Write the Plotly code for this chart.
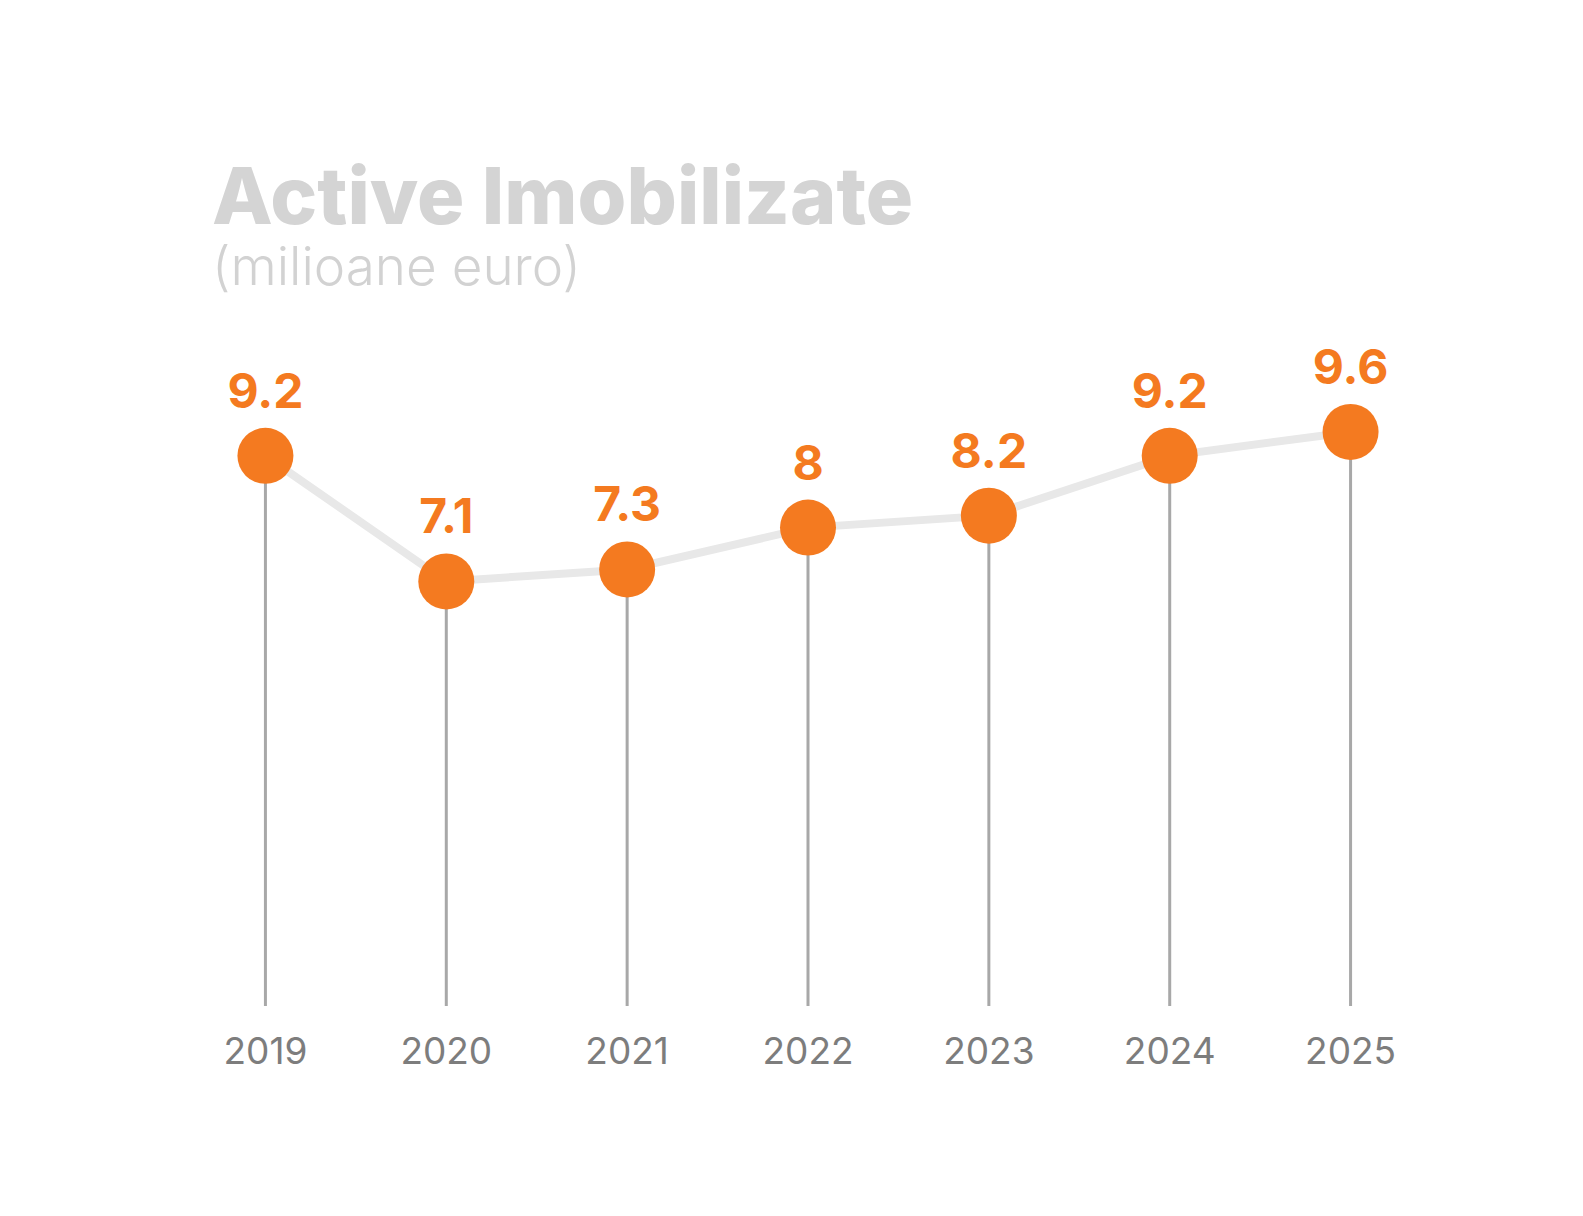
import plotly.graph_objects as go

years = ["2019", "2020", "2021", "2022", "2023", "2024", "2025"]
values = [9.2, 7.1, 7.3, 8.0, 8.2, 9.2, 9.6]
labels = ["9.2", "7.1", "7.3", "8", "8.2", "9.2", "9.6"]
title = "Active Imobilizate"
subtitle = "(milioane euro)"

xs = list(range(len(years)))

ORANGE = "#f47a20"
STEM = "#a8a8a8"
LINE = "#e8e8e8"

stem_x, stem_y = [], []
for x, v in zip(xs, values):
    stem_x += [x, x, None]
    stem_y += [0, v, None]

fig = go.Figure()
fig.add_trace(go.Scatter(x=stem_x, y=stem_y, mode="lines",
                         line=dict(color=STEM, width=3), hoverinfo="skip", showlegend=False))
fig.add_trace(go.Scatter(x=xs, y=values, mode="lines",
                         line=dict(color=LINE, width=8), hoverinfo="skip", showlegend=False))
fig.add_trace(go.Scatter(x=xs, y=values, mode="markers+text",
                         marker=dict(color=ORANGE, size=56, line=dict(width=0)),
                         text=labels, textposition="top center",
                         textfont=dict(family="Inter", size=48, color=ORANGE, weight=700),
                         cliponaxis=False, showlegend=False))

heading = (
    f'<span style="font-size:79px;font-weight:800;fill:#d4d4d4">{title}</span><br>'
    f'<span style="font-size:53px;font-weight:300;fill:#d2d2d2">{subtitle}</span>'
)
fig.add_annotation(text=heading, xref="paper", yref="paper", x=0.028, y=1.4395,
                   xanchor="left", yanchor="top", align="left", showarrow=False,
                   font=dict(family="Inter", size=47, color="#d4d4d4"))

fig.update_layout(
    width=1583, height=1216,
    paper_bgcolor="white", plot_bgcolor="white",
    margin=dict(l=175, r=142, t=408, b=210),
    xaxis=dict(range=[-0.5, 6.5], tickvals=xs, ticktext=years, showgrid=False,
               zeroline=False, showline=False, ticks="", ticklabelstandoff=20,
               tickfont=dict(family="Inter", size=37, color="#7d7d7d")),
    yaxis=dict(range=[0, 10], showgrid=False, zeroline=False, showline=False,
               showticklabels=False, ticks=""),
)

fig.write_html("out.html")
